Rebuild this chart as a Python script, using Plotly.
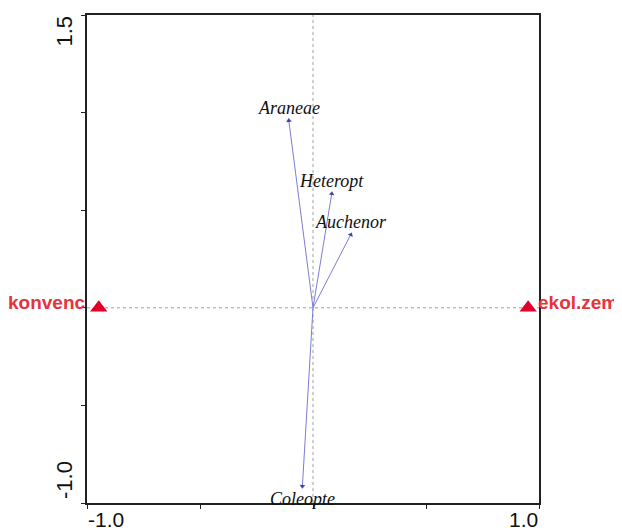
import plotly.graph_objects as go

# --- data ---
species = ["Araneae", "Heteropt", "Auchenor", "Coleopte"]
sp_x = [-0.107, 0.083, 0.167, -0.047]
sp_y = [0.959, 0.585, 0.375, -0.914]

env_names = ["konvenc", "ekol.zem"]
env_x = [-0.948, 0.952]
env_y = [0.0, 0.0]

x_ticks = [-1.0, -0.5, 0.0, 0.5, 1.0]
y_ticks = [-1.0, -0.5, 0.0, 0.5, 1.0, 1.5]
x_label_vals = [-1.0, 1.0]
x_label_text = ["-1.0", "1.0"]
y_label_vals = [-1.0, 1.5]
y_label_text = ["-1.0", "1.5"]

X_RANGE = [-1.0, 1.0]
Y_RANGE = [-1.0, 1.5]

fig = go.Figure()

# dotted zero lines
fig.add_shape(type="line", x0=0, x1=0, y0=Y_RANGE[0], y1=Y_RANGE[1], xref="x", yref="y",
              line=dict(color="#a0a0a0", width=1, dash="dot"), layer="below")
fig.add_shape(type="line", x0=X_RANGE[0], x1=X_RANGE[1], y0=0, y1=0, xref="x", yref="y",
              line=dict(color="#a0a0a0", width=1, dash="dot"), layer="below")

# species arrows
for name, xv, yv in zip(species, sp_x, sp_y):
    fig.add_trace(go.Scatter(
        x=[0, xv], y=[0, yv], mode="lines+markers",
        line=dict(color="#7c7cd6", width=1),
        marker=dict(symbol="triangle-up", angleref="previous", size=[0, 5],
                    color="#000080", line=dict(width=0)),
        hoverinfo="skip", showlegend=False, cliponaxis=False))
    fig.add_annotation(x=xv, y=yv, xref="x", yref="y", text="<i>" + name + "</i>",
                       showarrow=False, xanchor="center", yanchor="middle",
                       yshift=13 if yv > 0 else -13,
                       font=dict(family="Liberation Serif", size=18, color="#111111"))

# environmental centroids
fig.add_trace(go.Scatter(
    x=env_x, y=env_y, mode="markers",
    marker=dict(symbol="triangle-up", size=15, color="#e0002a", line=dict(width=0)),
    hoverinfo="skip", showlegend=False, cliponaxis=False))
for name, xv, yv in zip(env_names, env_x, env_y):
    left = xv < 0
    fig.add_annotation(x=xv, y=yv, xref="x", yref="y", text="<b>" + name + "</b>",
                       showarrow=False, xanchor="right" if left else "left",
                       yanchor="middle", xshift=-11 if left else 8, yshift=5,
                       font=dict(family="Liberation Sans", size=19, color="#e8323c"))

# tick labels (aligned inside the axis extent, as in the original)
for v, t in zip(x_label_vals, x_label_text):
    fig.add_annotation(x=v, y=0, xref="x", yref="paper", text=t, showarrow=False,
                       xanchor="left" if v < 0 else "right", yanchor="top", yshift=-4,
                       borderpad=0,
                       font=dict(family="Liberation Sans", size=21, color="#111111"))
for v, t in zip(y_label_vals, y_label_text):
    fig.add_annotation(x=0, y=v, xref="paper", yref="y", text=t, showarrow=False,
                       textangle=-90, xanchor="center",
                       yanchor="bottom" if v < 0 else "top",
                       yshift=2 if v < 0 else 1, xshift=-23,
                       font=dict(family="Liberation Sans", size=22, color="#111111"))

fig.update_xaxes(range=X_RANGE, tickvals=x_ticks, showticklabels=False, ticks="outside",
                 ticklen=4, tickwidth=1, tickcolor="#222222",
                 showline=True, linecolor="#222222", linewidth=1.5, mirror=True,
                 showgrid=False, zeroline=False)
fig.update_yaxes(range=Y_RANGE, tickvals=y_ticks, showticklabels=False, ticks="outside",
                 ticklen=4, tickwidth=1, tickcolor="#222222",
                 showline=True, linecolor="#222222", linewidth=1.5, mirror=True,
                 showgrid=False, zeroline=False)

# the page body adds an 8px margin, so the figure is 8px smaller in each direction
fig.update_layout(width=614, height=522, autosize=False,
                  margin=dict(l=79, r=83, t=5, b=27),
                  paper_bgcolor="white", plot_bgcolor="white", showlegend=False)

fig.write_html("out.html")
